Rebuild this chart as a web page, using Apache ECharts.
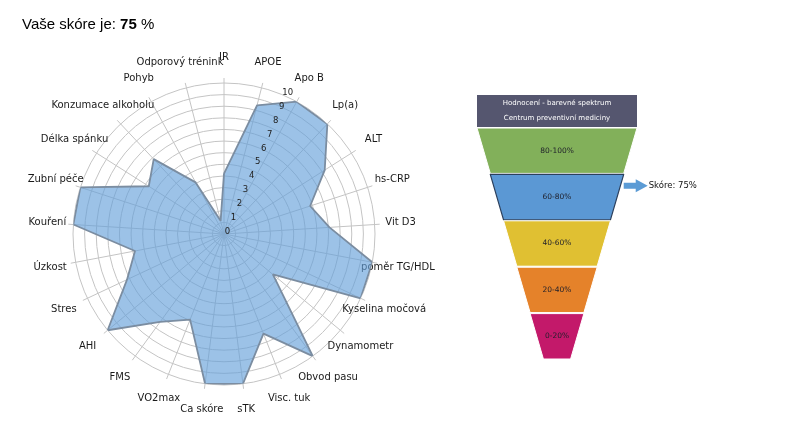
<!DOCTYPE html>
<html><head><meta charset="utf-8">
<script src="https://cdn.jsdelivr.net/npm/echarts@6/dist/echarts.min.js"></script>
<style>html,body{margin:0;padding:0;background:#fff}#c{width:800px;height:434px}</style>
</head><body><div id="c"></div>
<script>
// ---- data ----
const categories = ['IR','APOE','Apo B','Lp(a)','ALT','hs-CRP','Vit D3','poměr TG/HDL','Kyselina močová','Dynamometr','Obvod pasu','Visc. tuk','sTK','Ca skóre','VO2max','FMS','AHI','Stres','Úzkost','Kouření','Zubní péče','Délka spánku','Konzumace alkoholu','Pohyb','Odporový trénink'];
const scores = [4.0, 8.8, 10, 10, 7.9, 6.0, 7.0, 10, 10, 4.2, 10, 7.1, 10, 10, 6.1, 7.2, 10, 7.1, 6.0, 10, 10, 5.9, 6.8, 3.9, 0.9];
const radialTicks = [0,1,2,3,4,5,6,7,8,9,10];
const totalScore = 75;
const headerLines = ['Hodnocení - barevné spektrum', 'Centrum preventivní mediciny'];
const bandLabels = ['80-100%','60-80%','40-60%','20-40%','0-20%'];
const bandValues = [100, 80, 60, 40, 20];

// ---- layout / style ----
const C = [224, 234], R = 151, LABEL_R = 177;
const N = categories.length;
const gridColor = '#c4c4c4';
const ringStep = 10 / 13;
const bandColors = ['#82b05a', '#5b98d4', '#e0c032', '#e5822a', '#c3196a'];
const F = { left: 477, width: 160, headTop: 95, headH: 32, top: 128, height: 231, gap: 1 };

const chart = echarts.init(document.getElementById('c'));

const polarLine = scores.map((v, i) => [v, i]);
polarLine.push([scores[0], N]);

const bandsH = (F.height - F.gap * (bandValues.length - 1)) / bandValues.length;
const bandIdx = Math.min(bandValues.length - 1, Math.floor((100 - totalScore) / 20));
const frac = (bandValues[bandIdx] - totalScore) / 20;
const ay = F.top + bandIdx * (bandsH + F.gap) + frac * bandsH;
const topW = F.width * (0.17 + 0.83 * bandValues[bandIdx] / 100);
const ax = F.left + F.width / 2 + topW / 2;

chart.setOption({
  animation: false,
  title: {
    left: 17, top: 11,
    text: '{a|Vaše skóre je: }{b|' + totalScore + '}{a| %}',
    textStyle: {
      fontWeight: 'normal',
      rich: {
        a: { fontFamily: 'Liberation Sans, Arial', fontSize: 15, fontWeight: 'normal', color: '#000', lineHeight: 18 },
        b: { fontFamily: 'Liberation Sans, Arial', fontSize: 15, fontWeight: 'bold', color: '#000', lineHeight: 18 }
      }
    }
  },
  polar: [
    { center: C, radius: R },
    { center: [C[0] + 3.5, C[1] - 2.5], radius: R },
    { center: C, radius: LABEL_R }
  ],
  angleAxis: [
    { polarIndex: 0, type: 'value', min: 0, max: N, interval: 1, startAngle: 90, clockwise: true,
      axisLine: { show: false }, axisLabel: { show: false },
      axisTick: { show: true, length: 5, lineStyle: { color: gridColor } },
      splitLine: { show: true, lineStyle: { color: gridColor, width: 1 } } },
    { polarIndex: 1, type: 'value', min: 0, max: 360, startAngle: 90 - 23.5, show: false },
    { polarIndex: 2, type: 'value', min: 0, max: N, startAngle: 90, clockwise: true, show: false }
  ],
  radiusAxis: [
    { polarIndex: 0, min: 0, max: 10, interval: ringStep,
      axisLine: { show: false }, axisTick: { show: false }, axisLabel: { show: false },
      splitLine: { show: true, lineStyle: { color: gridColor, width: 1 } } },
    { polarIndex: 1, min: 0, max: 10, interval: 1, z: 10,
      axisLine: { show: false }, axisTick: { show: false }, splitLine: { show: false },
      axisLabel: { show: true, margin: 0, align: 'center', verticalAlign: 'middle',
        fontFamily: 'DejaVu Sans', fontSize: 8.5, color: '#222',
        formatter: v => radialTicks.includes(v) ? String(v) : '' } },
    { polarIndex: 2, min: 0, max: 1, show: false }
  ],
  series: [
    { type: 'line', coordinateSystem: 'polar', polarIndex: 0, data: polarLine,
      symbol: 'none', z: 3,
      lineStyle: { color: '#7b8da1', width: 1.8 },
      areaStyle: { color: 'rgba(100,160,218,0.64)', opacity: 1 } },
    { type: 'scatter', coordinateSystem: 'polar', polarIndex: 2, symbolSize: 0, silent: true,
      itemStyle: { opacity: 1 },
      data: categories.map((c, i) => ({ name: c, value: [1, i] })),
      label: { show: true, position: 'inside', formatter: p => p.name,
        fontFamily: 'DejaVu Sans', fontSize: 10, color: '#1a1a1a' } },
    { type: 'funnel', left: F.left, top: F.headTop, width: F.width, height: F.headH,
      sort: 'none', min: 0, max: 100, minSize: '100%', maxSize: '100%', silent: true,
      data: [{ value: 100, name: headerLines.join('\n'),
        itemStyle: { color: '#55566f', borderWidth: 0 } }],
      label: { show: true, position: 'inside', color: '#fff', fontFamily: 'DejaVu Sans', fontSize: 7, lineHeight: 15 } },
    { type: 'funnel', left: F.left, top: F.top, width: F.width, height: F.height, gap: F.gap,
      sort: 'none', min: 0, max: 100, minSize: '17%', maxSize: '100%', silent: true,
      data: bandValues.map((v, i) => ({ value: v, name: bandLabels[i],
        itemStyle: i === bandIdx ? { color: bandColors[i], borderColor: '#2b3f5c', borderWidth: 1.2 }
                                 : { color: bandColors[i], borderColor: '#fff', borderWidth: 1 } })),
      label: { show: true, position: 'inside', color: '#1f1f2a', fontFamily: 'DejaVu Sans', fontSize: 7.5 } }
  ],
  graphic: [
    { type: 'polygon', shape: { points: [
        [ax, ay - 3], [ax + 12, ay - 3], [ax + 12, ay - 6.5], [ax + 24, ay],
        [ax + 12, ay + 6.5], [ax + 12, ay + 3], [ax, ay + 3]] },
      style: { fill: '#5b9bd5' } },
    { type: 'text', x: ax + 25, y: ay, style: { text: 'Skóre: ' + totalScore + '%',
        fontFamily: 'DejaVu Sans', fontSize: 8.5, fill: '#111', verticalAlign: 'middle' } }
  ]
});
</script></body></html>
